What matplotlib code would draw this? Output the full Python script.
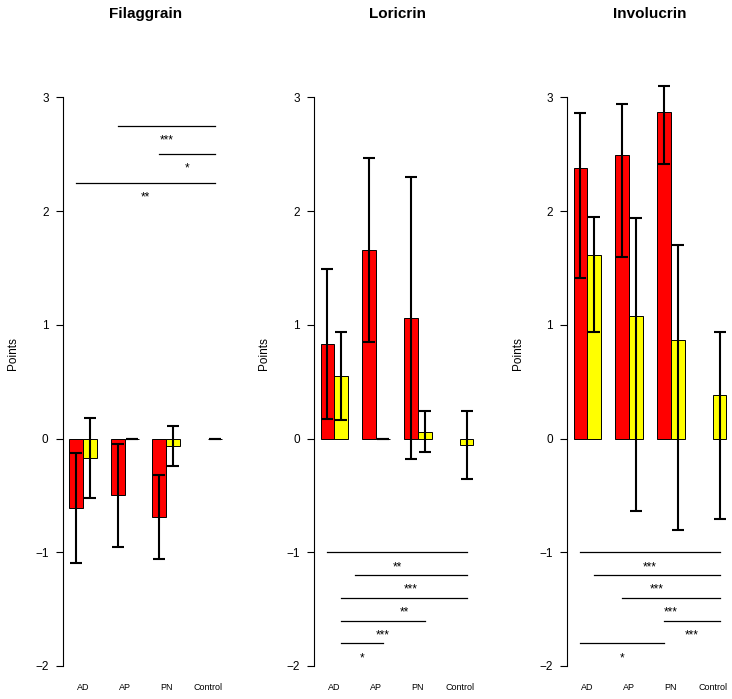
import numpy as np
import matplotlib.pyplot as plt

plt.rcParams['font.family'] = ['Liberation Sans', 'DejaVu Sans']

nan = np.nan
groups = ['AD', 'AP', 'PN', 'Control']

# Filaggrain (red / yellow series, error = lower, upper)
fil_red = [-0.61, -0.50, -0.69, nan]
fil_red_lo = [0.485, 0.45, 0.37, nan]
fil_red_hi = [0.485, 0.45, 0.37, nan]
fil_yel = [-0.17, 0.0, -0.065, 0.0]
fil_yel_lo = [0.35, 0.0, 0.175, 0.0]
fil_yel_hi = [0.35, 0.0, 0.175, 0.0]

# Loricrin
lor_red = [0.83, 1.66, 1.06, nan]
lor_red_lo = [0.66, 0.81, 1.24, nan]
lor_red_hi = [0.66, 0.81, 1.24, nan]
lor_yel = [0.55, 0.0, 0.06, -0.06]
lor_yel_lo = [0.39, 0.0, 0.18, 0.30]
lor_yel_hi = [0.39, 0.0, 0.18, 0.30]

# Involucrin
inv_red = [2.38, 2.49, 2.87, nan]
inv_red_lo = [0.97, 0.89, 0.46, nan]
inv_red_hi = [0.48, 0.45, 0.23, nan]
inv_yel = [1.61, 1.08, 0.87, 0.385]
inv_yel_lo = [0.67, 1.72, 1.67, 1.09]
inv_yel_hi = [0.335, 0.86, 0.83, 0.55]

# significance brackets: start, end (bar units), height, label
fil_sig_x0 = [4.5, 7.5, 1.5]
fil_sig_x1 = [11.5, 11.5, 11.5]
fil_sig_y = [2.75, 2.5, 2.25]
fil_sig_lab = ['***', '*', '**']

lor_sig_x0 = [1.5, 3.5, 2.5, 2.5, 2.5]
lor_sig_x1 = [11.5, 11.5, 11.5, 8.5, 5.5]
lor_sig_y = [-1.0, -1.2, -1.4, -1.6, -1.8]
lor_sig_lab = ['**', '***', '**', '***', '*']

inv_sig_x0 = [1.5, 2.5, 4.5, 7.5, 1.5]
inv_sig_x1 = [11.5, 11.5, 11.5, 11.5, 7.5]
inv_sig_y = [-1.0, -1.2, -1.4, -1.6, -1.8]
inv_sig_lab = ['***', '***', '***', '***', '*']

panels = [
    ('Filaggrain', fil_red, fil_red_lo, fil_red_hi, fil_yel, fil_yel_lo, fil_yel_hi,
     fil_sig_x0, fil_sig_x1, fil_sig_y, fil_sig_lab),
    ('Loricrin', lor_red, lor_red_lo, lor_red_hi, lor_yel, lor_yel_lo, lor_yel_hi,
     lor_sig_x0, lor_sig_x1, lor_sig_y, lor_sig_lab),
    ('Involucrin', inv_red, inv_red_lo, inv_red_hi, inv_yel, inv_yel_lo, inv_yel_hi,
     inv_sig_x0, inv_sig_x1, inv_sig_y, inv_sig_lab),
]

W, H = 732, 699
fig = plt.figure(figsize=(W / 100, H / 100), dpi=100)

lefts = [62.5, 314, 567]
ax_w = 166
ax_top, ax_bot = 40.4, 666

g = np.arange(len(groups))
x_red = 3 * g + 1.0
x_yel = 3 * g + 2.0

for left, (title, red, red_lo, red_hi, yel, yel_lo, yel_hi,
           sx0, sx1, sy, slab) in zip(lefts, panels):
    ax = fig.add_axes([left / W, (H - ax_bot) / H, ax_w / W, (ax_bot - ax_top) / H])

    ax.bar(x_red, red, width=1.0, align='edge', color='#ff0000',
           edgecolor='black', linewidth=0.7, zorder=2)
    ax.bar(x_yel, yel, width=1.0, align='edge', color='#ffff00',
           edgecolor='black', linewidth=0.7, zorder=2)
    ax.errorbar(x_red + 0.5, red, yerr=[red_lo, red_hi], fmt='none', ecolor='black',
                elinewidth=1.5, capsize=4.3, capthick=1.5, zorder=3)
    ax.errorbar(x_yel + 0.5, yel, yerr=[yel_lo, yel_hi], fmt='none', ecolor='black',
                elinewidth=1.5, capsize=4.3, capthick=1.5, zorder=3)

    # significance lines with stars underneath
    for a, b, y, lab in zip(sx0, sx1, sy, slab):
        ax.plot([a, b], [y, y], color='black', lw=0.9)
        ax.text((a + b) / 2, y - 0.13, lab, ha='center', va='center', fontsize=8.5)

    ax.set_xlim(0.53, 12.47)
    ax.set_ylim(-2, 3.5)
    for s in ['top', 'right', 'bottom']:
        ax.spines[s].set_visible(False)
    ax.spines['left'].set_bounds(-2, 3)
    ax.spines['left'].set_linewidth(0.8)
    ax.set_yticks([-2, -1, 0, 1, 2, 3])
    ax.set_yticklabels(['\u22122', '\u22121', '0', '1', '2', '3'])
    ax.tick_params(axis='y', length=5, width=0.8, pad=5, labelsize=8.5)
    ax.set_xticks(x_yel)
    ax.set_xticklabels(groups)
    ax.tick_params(axis='x', length=0, pad=12, labelsize=6.5)

    ax.text(-49.5 / ax_w, 0.5, 'Points', transform=ax.transAxes, rotation=90,
            ha='center', va='center', fontsize=8.5)
    fig.text((left + ax_w / 2) / W, 1 - 18.3 / H, title, ha='center', va='baseline',
             fontsize=11, fontweight='bold')

fig.savefig('out.png', dpi=100)
